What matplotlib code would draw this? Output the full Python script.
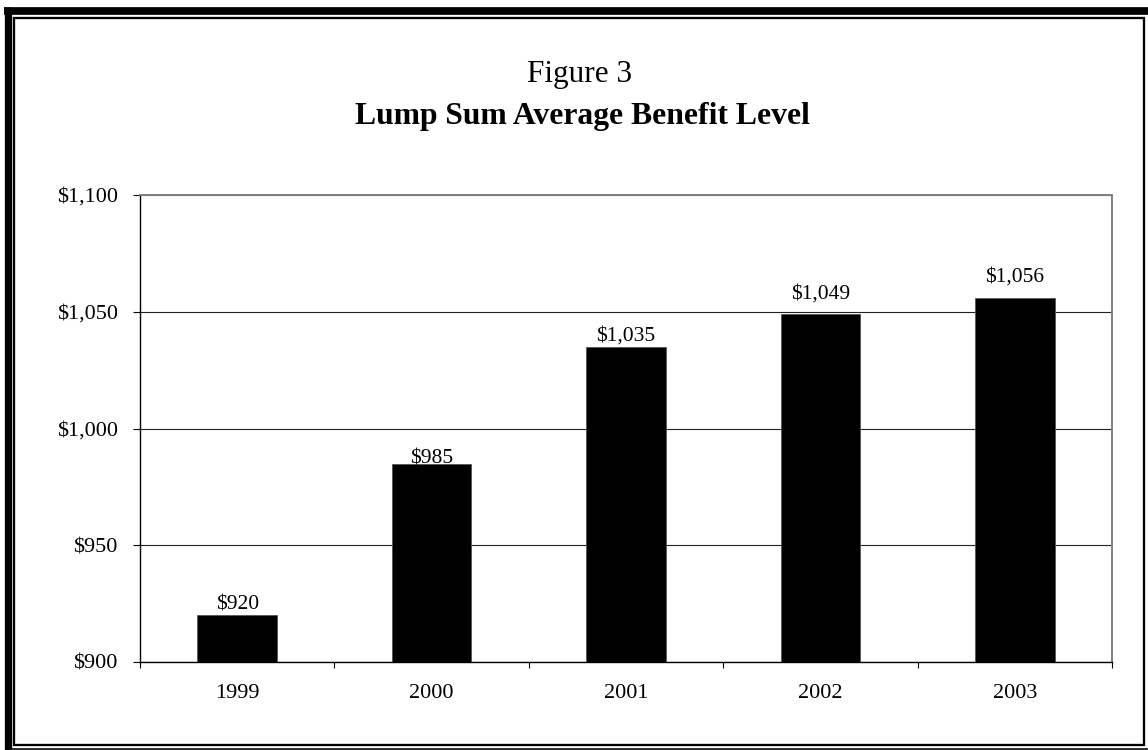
import matplotlib
matplotlib.use("Agg")
import matplotlib.pyplot as plt
from matplotlib.patches import Rectangle
from matplotlib.lines import Line2D
from matplotlib.ticker import FuncFormatter, FixedLocator
import numpy as np

# Data
years = ["1999", "2000", "2001", "2002", "2003"]
avg_benefit = [920, 985, 1035, 1049, 1056]
y_ticks = [900, 950, 1000, 1050, 1100]

# Layout: extra lift of each value label above its bar, in pixels
label_lift_px = [6, 0, 6, 16, 16]

W, H, DPI = 1148, 750, 100
plt.rcParams["font.family"] = ["Liberation Serif", "DejaVu Serif"]

fig = plt.figure(figsize=(W / DPI, H / DPI), dpi=DPI, facecolor="white")


def fx(px):
    return px / W


def fy(py):
    return 1 - py / H


def lw(px):
    return px * 72 / DPI


# Double border around the chart
fig.add_artist(Line2D([fx(7.65), fx(7.65)], [fy(7.3), fy(750)], color="black",
                      lw=lw(7.3), transform=fig.transFigure, solid_capstyle="butt"))
fig.add_artist(Line2D([fx(4), fx(1148)], [fy(11.15), fy(11.15)], color="black",
                      lw=lw(7.7), transform=fig.transFigure, solid_capstyle="butt"))
fig.add_artist(Line2D([fx(11.7), fx(1148)], [fy(748.5), fy(748.5)], color="black",
                      lw=lw(1.6), transform=fig.transFigure, solid_capstyle="butt"))
fig.add_artist(Rectangle((fx(14.3), fy(744.8)), fx(1144.4) - fx(14.3), fy(17.85) - fy(744.8),
                         fill=False, edgecolor="black", lw=lw(2.3),
                         transform=fig.transFigure, joinstyle="miter"))

# Titles
fig.text(fx(580), fy(82), "Figure 3", ha="center", va="baseline", fontsize=22.5)
fig.text(fx(582), fy(124), "Lump Sum Average Benefit Level", ha="center",
         va="baseline", fontsize=22.8, fontweight="bold")

# Plot area
left, right, top, bottom = 140, 1112, 195, 662
ax = fig.add_axes([fx(left), fy(bottom), fx(right) - fx(left), (bottom - top) / H])

x = np.arange(len(years))
ax.bar(x, avg_benefit, width=0.41, color="black", edgecolor="#555555",
       linewidth=0.6, zorder=3)

ax.set_xlim(-0.5, len(years) - 0.5)
ax.set_ylim(y_ticks[0], y_ticks[-1])

ax.yaxis.set_major_locator(FixedLocator(y_ticks))
ax.yaxis.set_major_formatter(FuncFormatter(lambda v, p: f"${v:,.0f}"))
ax.grid(axis="y", color="#222222", linewidth=0.8, zorder=1)
ax.set_axisbelow(True)

# Category boundaries carry the ticks; labels sit at the centres
ax.xaxis.set_major_locator(FixedLocator(np.arange(-0.5, len(years), 1.0)))
ax.xaxis.set_major_formatter(FuncFormatter(lambda v, p: ""))
ax.xaxis.set_minor_locator(FixedLocator(x))
ax.set_xticklabels(years, minor=True)
ax.tick_params(axis="x", which="major", direction="out", length=lw(6), width=0.8,
               color="black")
ax.tick_params(axis="x", which="minor", length=0, pad=16, labelsize=16)
ax.tick_params(axis="y", direction="out", length=lw(7), width=0.8, pad=11,
               labelsize=16, color="black")

for side in ("top", "right"):
    ax.spines[side].set_color("#808080")
    ax.spines[side].set_linewidth(1.4)
for side in ("left", "bottom"):
    ax.spines[side].set_color("black")
    ax.spines[side].set_linewidth(1.0)

for xi, v, lift in zip(x, avg_benefit, label_lift_px):
    ax.annotate(f"${v:,.0f}", (xi, v), xytext=(0, lw(lift)), textcoords="offset points",
                ha="center", va="baseline", fontsize=15.5, zorder=4)

fig.savefig("out.png", dpi=DPI, facecolor="white")
